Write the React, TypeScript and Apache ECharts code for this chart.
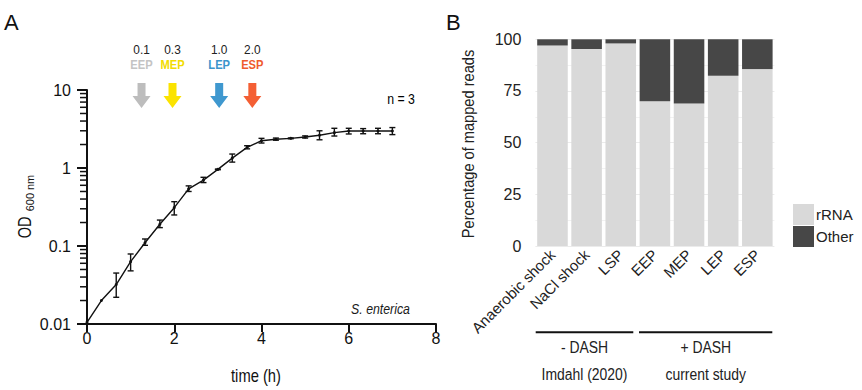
import React, { useEffect, useRef } from "react";
import * as echarts from "echarts";

const FONT = '"Liberation Sans", Arial, Helvetica, sans-serif';

// Panel A: growth curve
const times = [0, 0.33, 0.67, 1, 1.33, 1.67, 2, 2.33, 2.67, 3, 3.33, 3.67, 4, 4.33, 4.67, 5, 5.33, 5.67, 6, 6.33, 6.67, 7];
const odMean = [0.0105, 0.02, 0.032, 0.063, 0.11, 0.19, 0.31, 0.54, 0.7, 0.96, 1.34, 1.84, 2.24, 2.34, 2.4, 2.5, 2.63, 2.84, 2.98, 2.98, 2.98, 2.98];
const odLow = [0.0105, 0.02, 0.022, 0.048, 0.102, 0.172, 0.25, 0.5, 0.65, 0.95, 1.19, 1.76, 2.09, 2.27, 2.37, 2.42, 2.3, 2.57, 2.73, 2.75, 2.75, 2.68];
const odHigh = [0.0105, 0.02, 0.045, 0.079, 0.123, 0.215, 0.37, 0.59, 0.76, 0.97, 1.51, 1.93, 2.4, 2.42, 2.43, 2.58, 3.0, 3.23, 3.23, 3.2, 3.23, 3.3];
const xTicks = [0, 2, 4, 6, 8];
const yTickLabels = ["0.01", "0.1", "1", "10"];
const minorTicks = [0.02, 0.03, 0.04, 0.05, 0.06, 0.07, 0.08, 0.09, 0.2, 0.3, 0.4, 0.5, 0.6, 0.7, 0.8, 0.9, 2, 3, 4, 5, 6, 7, 8, 9];

// Harvest points
const arrowTimes = [1.25, 1.96, 3.03, 3.79];
const arrowOD = ["0.1", "0.3", "1.0", "2.0"];
const arrowNames = ["EEP", "MEP", "LEP", "ESP"];
const arrowColors = ["#bdbdbd", "#fbe300", "#3f98cf", "#f45f34"];
const arrowTextColors = ["#c4c4c4", "#f2dc00", "#3b95cc", "#ef5a2c"];

// Panel B: read composition
const categories = ["Anaerobic shock", "NaCl shock", "LSP", "EEP", "MEP", "LEP", "ESP"];
const rRNA = [97, 95.3, 98, 70, 69, 82.4, 85.6];
const other = [3, 4.7, 2, 30, 31, 17.6, 14.4];
const yTicksB = [0, 25, 50, 75, 100];

export default function App() {
  const ref = useRef<HTMLDivElement>(null);
  useEffect(() => {
    if (!ref.current) return;
    const chart = echarts.init(ref.current, undefined, { renderer: "svg" });
    const black = "#111";
    const txt = (id: string, text: string, x: number, y: number, size: number, sx: number, fill: string, rot = 0, prefix = "") => ({
      type: "text",
      id,
      x,
      y,
      scaleX: sx,
      rotation: rot,
      style: { text, font: `${prefix}${size}px ${FONT}`, fill, align: "center", verticalAlign: "middle" },
    });
    const option: any = {
      animation: false,
      textStyle: { fontFamily: FONT },
      grid: [
        { left: 87, top: 90, width: 349, height: 234 },
        { left: 535.4, top: 39.3, width: 239, height: 206.7 },
      ],
      xAxis: [
        {
          gridIndex: 0,
          type: "value",
          min: 0,
          max: 8,
          interval: 2,
          axisLine: { show: true, lineStyle: { color: black, width: 2 } },
          axisTick: { show: true, inside: false, length: 8, lineStyle: { color: black, width: 2 } },
          axisLabel: { fontSize: 16, color: black, margin: 6, fontFamily: FONT, formatter: (v: number) => (xTicks.includes(v) ? String(v) : "") },
          splitLine: { show: false },
        },
        {
          gridIndex: 1,
          type: "category",
          data: categories,
          axisLine: { show: false },
          axisTick: { show: false },
          axisLabel: { rotate: 45, fontSize: 15, color: "#222", margin: 6, fontFamily: FONT, interval: 0 },
        },
      ],
      yAxis: [
        {
          gridIndex: 0,
          type: "log",
          logBase: 10,
          min: 0.01,
          max: 10,
          axisLine: { show: true, lineStyle: { color: black, width: 2 } },
          axisTick: { show: true, inside: false, length: 10, lineStyle: { color: black, width: 2 } },
          axisLabel: {
            fontSize: 16,
            color: black,
            margin: 16,
            fontFamily: FONT,
            formatter: (v: number) => {
              const i = Math.round(Math.log10(v)) + 2;
              return yTickLabels[i] ?? "";
            },
          },
          splitLine: { show: false },
        },
        {
          gridIndex: 1,
          type: "value",
          min: 0,
          max: 100,
          interval: 25,
          axisLine: { show: false },
          axisTick: { show: false },
          axisLabel: { fontSize: 16, color: "#222", margin: 14, fontFamily: FONT, formatter: (v: number) => (yTicksB.includes(v) ? String(v) : "") },
          splitLine: { show: true, lineStyle: { color: "#ebebeb", width: 1.2 } },
          minorTick: { show: false, splitNumber: 2 },
          minorSplitLine: { show: true, lineStyle: { color: "#f2f2f2", width: 1 } },
        },
      ],
      legend: {
        orient: "vertical",
        left: 788,
        top: 199,
        itemWidth: 21,
        itemHeight: 21,
        itemGap: 1,
        data: ["rRNA", "Other"],
        textStyle: { fontSize: 15, color: "#222", fontFamily: FONT, padding: [0, 0, 0, -3] },
        icon: "rect",
      },
      series: [
        {
          type: "custom",
          name: "minorTicks",
          xAxisIndex: 0,
          yAxisIndex: 0,
          clip: false,
          silent: true,
          data: minorTicks.map((v) => [0, v]),
          encode: { x: 0, y: 1 },
          renderItem: (params: any, api: any) => {
            const p = api.coord([0, api.value(1)]);
            return {
              type: "line",
              shape: { x1: p[0] - 7, y1: p[1], x2: p[0], y2: p[1] },
              style: { stroke: black, lineWidth: 1.5 },
            };
          },
        },
        {
          type: "line",
          name: "OD",
          xAxisIndex: 0,
          yAxisIndex: 0,
          data: times.map((t, i) => [t, odMean[i]]),
          symbol: "circle",
          symbolSize: 3,
          itemStyle: { color: black },
          lineStyle: { color: black, width: 1.4 },
          z: 3,
        },
        {
          type: "custom",
          name: "err",
          xAxisIndex: 0,
          yAxisIndex: 0,
          data: times.map((t, i) => [t, odLow[i], odHigh[i]]),
          encode: { x: 0, y: [1, 2] },
          z: 4,
          renderItem: (params: any, api: any) => {
            const x = api.value(0);
            const lo = api.value(1);
            const hi = api.value(2);
            if (!(hi > lo)) return { type: "group", children: [] };
            const a = api.coord([x, lo]);
            const b = api.coord([x, hi]);
            const w = 3;
            const st = { stroke: black, lineWidth: 1.4 };
            return {
              type: "group",
              children: [
                { type: "line", shape: { x1: a[0], y1: a[1], x2: b[0], y2: b[1] }, style: st },
                { type: "line", shape: { x1: a[0] - w, y1: a[1], x2: a[0] + w, y2: a[1] }, style: st },
                { type: "line", shape: { x1: b[0] - w, y1: b[1], x2: b[0] + w, y2: b[1] }, style: st },
              ],
            };
          },
        },
        {
          type: "custom",
          name: "arrows",
          xAxisIndex: 0,
          yAxisIndex: 0,
          clip: false,
          silent: true,
          data: arrowTimes.map((t) => [t, 10]),
          encode: { x: 0, y: 1 },
          renderItem: (params: any, api: any) => {
            const i = params.dataIndex;
            const p = api.coord([api.value(0), 10]);
            const cx = p[0];
            const top = p[1] - 7;
            const neck = p[1] + 6;
            const tip = p[1] + 18;
            return {
              type: "group",
              children: [
                {
                  type: "polygon",
                  shape: {
                    points: [
                      [cx - 4, top],
                      [cx + 4, top],
                      [cx + 4, neck],
                      [cx + 9, neck],
                      [cx, tip],
                      [cx - 9, neck],
                      [cx - 4, neck],
                    ],
                  },
                  style: { fill: arrowColors[i] },
                },
                {
                  type: "text",
                  x: cx,
                  y: p[1] - 41,
                  scaleX: 0.88,
                  style: {
                    text: arrowOD[i],
                    align: "center",
                    verticalAlign: "middle",
                    fill: "#222",
                    font: `13.5px ${FONT}`,
                  },
                },
                {
                  type: "text",
                  x: cx,
                  y: p[1] - 25,
                  scaleX: 0.86,
                  style: {
                    text: arrowNames[i],
                    align: "center",
                    verticalAlign: "middle",
                    fill: arrowTextColors[i],
                    font: `bold 13px ${FONT}`,
                  },
                },
              ],
            };
          },
        },
        {
          type: "bar",
          name: "rRNA",
          xAxisIndex: 1,
          yAxisIndex: 1,
          stack: "reads",
          data: rRNA,
          barCategoryGap: "10.5%",
          itemStyle: { color: "#d9d9d9" },
        },
        {
          type: "bar",
          name: "Other",
          xAxisIndex: 1,
          yAxisIndex: 1,
          stack: "reads",
          data: other,
          barCategoryGap: "10.5%",
          itemStyle: { color: "#474747" },
        },
      ],
      graphic: [
        { type: "text", id: "lblA", left: 4, top: 11, style: { text: "A", font: `22px ${FONT}`, fill: "#111" } },
        { type: "text", id: "lblB", left: 446, top: 11, style: { text: "B", font: `22px ${FONT}`, fill: "#111" } },
        txt("nrep", "n = 3", 401, 99, 14, 0.88, "#000000"),
        txt("species", "S. enterica", 380.5, 309, 14, 0.88, "#1a1a1a", 0, "italic "),
        txt("xname", "time (h)", 256, 375, 18, 0.82, "#111"),
        txt("od", "OD", 25, 227.5, 18.5, 0.78, "#111", Math.PI / 2),
        txt("odsub", "600 nm", 29.5, 193, 11.5, 0.95, "#111", Math.PI / 2),
        txt("yname", "Percentage of mapped reads", 468, 144, 17, 0.86, "#222", Math.PI / 2),
        { type: "line", id: "g1", shape: { x1: 535.7, y1: 332.3, x2: 633.3, y2: 332.3 }, style: { stroke: "#111", lineWidth: 2 } },
        { type: "line", id: "g2", shape: { x1: 639, y1: 332.3, x2: 772.3, y2: 332.3 }, style: { stroke: "#111", lineWidth: 2 } },
        txt("t1", "- DASH", 584.5, 347, 16, 0.87, "#222"),
        txt("t2", "+ DASH", 705.7, 347, 16, 0.87, "#222"),
        txt("t3", "Imdahl (2020)", 584.5, 374, 16, 0.87, "#222"),
        txt("t4", "current study", 705.7, 374, 16, 0.87, "#222"),
      ],
    };
    chart.setOption(option);
    return () => chart.dispose();
  }, []);
  return <div ref={ref} style={{ position: "absolute", left: 0, top: 0, width: 862, height: 390, background: "#fff" }} />;
}
